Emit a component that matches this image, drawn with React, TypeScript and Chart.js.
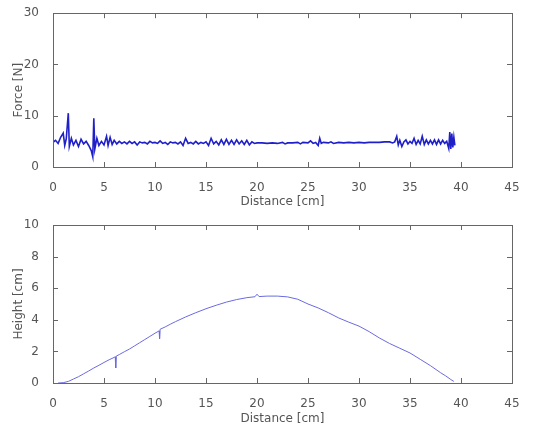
import React, { useEffect, useRef } from "react";
import { Chart, registerables } from "chart.js";

Chart.register(...registerables);

// Force vs distance (top plot)
const forceDistance = [
  0.0, 0.25, 0.5, 0.75, 1.0, 1.15, 1.3, 1.5, 1.6, 1.8, 2.0, 2.25, 2.5, 2.75, 3.0, 3.25, 3.5, 3.75, 3.9, 4.0,
  4.1, 4.3, 4.5, 4.75, 5.0, 5.25, 5.4, 5.6, 5.8, 6.0, 6.25, 6.5, 6.75, 7.0, 7.25, 7.5, 7.75, 8.0, 8.25, 8.5,
  8.75, 9.0, 9.25, 9.5, 9.75, 10.0, 10.25, 10.5, 10.75, 11.0, 11.25, 11.5, 11.75, 12.0, 12.25, 12.5, 12.75, 13.0, 13.25, 13.5,
  13.75, 14.0, 14.25, 14.5, 14.75, 15.0, 15.25, 15.5, 15.75, 16.0, 16.25, 16.5, 16.75, 17.0, 17.25, 17.5, 17.75, 18.0, 18.25, 18.5,
  18.75, 19.0, 19.25, 19.5, 19.75, 20.0, 20.5, 21.0, 21.5, 22.0, 22.5, 22.75, 23.0, 23.5, 24.0, 24.25, 24.5, 25.0, 25.25, 25.5,
  25.75, 26.0, 26.15, 26.3, 26.5, 27.0, 27.25, 27.5, 28.0, 28.5, 29.0, 29.5, 30.0, 30.5, 31.0, 31.5, 32.0, 32.5, 33.0, 33.3,
  33.5, 33.7, 33.85, 34.0, 34.2, 34.4, 34.6, 34.8, 35.0, 35.2, 35.4, 35.6, 35.8, 36.0, 36.2, 36.4, 36.6, 36.8, 37.0, 37.2,
  37.4, 37.6, 37.8, 38.0, 38.2, 38.4, 38.6, 38.8, 38.9, 39.0, 39.1, 39.2, 39.3, 39.4,
];
const forceValues = [
  4.8, 5.2, 4.6, 5.8, 6.6, 4.2, 5.5, 10.5, 4.0, 5.6, 4.3, 5.2, 4.0, 5.4, 4.5, 5.0, 4.2, 3.2, 2.0, 9.5,
  3.5, 5.6, 4.2, 5.0, 4.3, 6.0, 4.2, 5.8, 4.4, 5.2, 4.5, 5.0, 4.6, 4.9, 4.5, 5.0, 4.6, 4.9, 4.3, 4.9,
  4.7, 4.8, 4.5, 5.0, 4.7, 4.8, 4.6, 5.1, 4.6, 4.8, 4.4, 4.9, 4.7, 4.8, 4.5, 4.9, 4.2, 5.6, 4.6, 4.8,
  4.5, 5.0, 4.5, 4.8, 4.6, 4.9, 4.2, 5.6, 4.5, 5.0, 4.3, 5.3, 4.4, 5.4, 4.4, 5.2, 4.4, 5.3, 4.5, 5.1,
  4.4, 5.2, 4.3, 4.9, 4.6, 4.7, 4.7, 4.6, 4.7, 4.6, 4.8, 4.5, 4.7, 4.7, 4.8, 4.5, 4.8, 4.7, 5.1, 4.6,
  4.8, 4.2, 5.6, 4.6, 4.8, 4.7, 4.9, 4.6, 4.8, 4.7, 4.8, 4.7, 4.8, 4.7, 4.8, 4.8, 4.8, 4.9, 4.9, 4.7,
  4.9, 6.0, 4.3, 5.2, 4.0, 4.9, 5.3, 4.5, 5.0, 4.6, 5.6, 4.4, 5.2, 4.5, 6.0, 4.4, 5.3, 4.5, 5.2, 4.5,
  5.3, 4.4, 5.3, 4.5, 5.2, 4.6, 5.0, 3.6, 6.8, 3.5, 6.5, 3.8, 5.8, 4.2,
];

// Height vs distance (bottom plot)
const heightDistance = [
  0.5, 1.0, 1.5, 2.0, 2.5, 3.0, 3.5, 4.0, 4.5, 5.0, 5.5, 6.0, 6.1, 6.15, 6.2, 6.5, 7.0, 7.5, 8.0, 8.5,
  9.0, 9.5, 10.0, 10.4, 10.45, 10.5, 11.0, 11.5, 12.0, 13.0, 14.0, 15.0, 16.0, 17.0, 18.0, 19.0, 19.8, 20.0, 20.2, 21.0,
  22.0, 23.0, 24.0, 25.0, 26.0, 27.0, 28.0, 29.0, 30.0, 31.0, 32.0, 33.0, 34.0, 35.0, 36.0, 37.0, 38.0, 38.5, 39.0, 39.3,
];
const heightValues = [
  0.0, 0.02, 0.1, 0.25, 0.4, 0.58, 0.76, 0.95, 1.12, 1.3, 1.47, 1.62, 1.66, 0.95, 1.7, 1.8, 1.98, 2.15, 2.35, 2.55,
  2.75, 2.95, 3.15, 3.3, 2.8, 3.4, 3.55, 3.72, 3.88, 4.18, 4.45, 4.7, 4.92, 5.12, 5.28, 5.4, 5.46, 5.62, 5.47, 5.5,
  5.5, 5.45, 5.3, 5.0, 4.75, 4.45, 4.12, 3.85, 3.6, 3.25, 2.85, 2.5, 2.2, 1.9, 1.5, 1.1, 0.65, 0.45, 0.22, 0.1,
];

const xTickStep = 5;
const FONT = { family: "'DejaVu Sans', sans-serif", size: 12 };
const TEXT_COLOR = "#555";

const framePlugin = {
  id: "matlabFrame",
  afterDraw(chart: any) {
    const { ctx, chartArea, scales } = chart;
    const { left, right, top, bottom } = chartArea;
    ctx.save();
    ctx.strokeStyle = "#666";
    ctx.lineWidth = 1;
    ctx.strokeRect(Math.round(left) + 0.5, Math.round(top) + 0.5, Math.round(right - left), Math.round(bottom - top));
    const tl = 5;
    ctx.beginPath();
    for (const t of scales.x.ticks) {
      const px = Math.round(scales.x.getPixelForValue(t.value)) + 0.5;
      ctx.moveTo(px, bottom);
      ctx.lineTo(px, bottom - tl);
      ctx.moveTo(px, top);
      ctx.lineTo(px, top + tl);
    }
    for (const t of scales.y.ticks) {
      const py = Math.round(scales.y.getPixelForValue(t.value)) + 0.5;
      ctx.moveTo(left, py);
      ctx.lineTo(left + tl, py);
      ctx.moveTo(right, py);
      ctx.lineTo(right - tl, py);
    }
    ctx.stroke();
    ctx.restore();
  },
};

function makeConfig(
  xs: number[],
  ys: number[],
  color: string,
  lineWidth: number,
  yMax: number,
  yStep: number,
  yTitle: string,
  padTop: number,
  xHeight: number
) {
  return {
    type: "line" as const,
    data: {
      datasets: [
        {
          data: xs.map((x, i) => ({ x, y: ys[i] })),
          borderColor: color,
          borderWidth: lineWidth,
          pointRadius: 0,
          tension: 0,
          fill: false,
        },
      ],
    },
    options: {
      animation: false,
      responsive: false,
      maintainAspectRatio: false,
      layout: { padding: { top: padTop, right: 29, left: 0, bottom: 0 } },
      plugins: { legend: { display: false }, tooltip: { enabled: false } },
      scales: {
        x: {
          type: "linear",
          min: 0,
          max: 45,
          grid: { display: false },
          border: { display: false },
          ticks: { stepSize: xTickStep, font: FONT, color: TEXT_COLOR, padding: 6, maxRotation: 0 },
          title: { display: true, text: "Distance [cm]", font: FONT, color: TEXT_COLOR, padding: { top: 1, bottom: 1 } },
          afterFit: (s: any) => {
            s.height = xHeight;
          },
        },
        y: {
          type: "linear",
          min: 0,
          max: yMax,
          grid: { display: false },
          border: { display: false },
          ticks: { stepSize: yStep, font: FONT, color: TEXT_COLOR, padding: 6 },
          title: { display: true, text: yTitle, font: FONT, color: TEXT_COLOR, padding: { top: 12, bottom: 12 } },
          afterFit: (s: any) => {
            s.width = 53;
          },
        },
      },
    },
    plugins: [framePlugin],
  };
}

export default function App() {
  const topRef = useRef<HTMLCanvasElement>(null);
  const botRef = useRef<HTMLCanvasElement>(null);

  useEffect(() => {
    const c1 = new Chart(
      topRef.current!,
      makeConfig(forceDistance, forceValues, "#2020c8", 1.6, 30, 10, "Force [N]", 10, 43) as any
    );
    const c2 = new Chart(
      botRef.current!,
      makeConfig(heightDistance, heightValues, "#6a6ae0", 1, 10, 2, "Height [cm]", 15, 44) as any
    );
    return () => {
      c1.destroy();
      c2.destroy();
    };
  }, []);

  return (
    <div style={{ position: "absolute", left: 0, top: 0, width: 541, height: 427, background: "#fff" }}>
      <canvas ref={topRef} width={541} height={210} style={{ position: "absolute", left: 0, top: 0, width: 541, height: 210 }} />
      <canvas ref={botRef} width={541} height={217} style={{ position: "absolute", left: 0, top: 210, width: 541, height: 217 }} />
    </div>
  );
}
